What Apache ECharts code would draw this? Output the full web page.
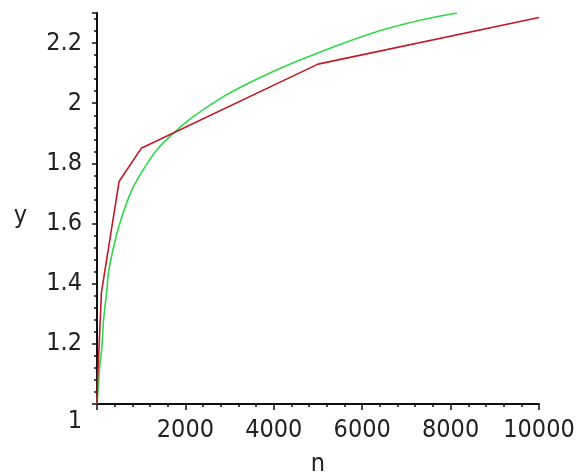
<!DOCTYPE html>
<html><head><meta charset="utf-8">
<script src="https://cdn.jsdelivr.net/npm/echarts@6/dist/echarts.min.js"></script>
<style>html,body{margin:0;padding:0;background:#fff}#c{width:582px;height:476px}</style>
</head><body><div id="c"></div>
<script>
// Red series (piecewise linear through sampled n)
const redN = [1, 10, 50, 100, 500, 1000, 5000, 10000];
const redY = [1.0, 1.07, 1.2, 1.37, 1.74, 1.85, 2.13, 2.285];
// Green series (smooth curve)
const greenN = [1, 30, 60, 111, 149, 224, 263, 414, 564, 790, 1093, 1395, 1773, 2149, 2905, 3659, 4412, 5470, 6224, 6980, 7734, 8148];
const greenY = [1.0, 1.06, 1.12, 1.19, 1.28, 1.379, 1.44, 1.546, 1.623, 1.712, 1.79, 1.852, 1.906, 1.952, 2.026, 2.083, 2.133, 2.194, 2.233, 2.264, 2.289, 2.3];
const xTicks = [0, 2000, 4000, 6000, 8000, 10000];
const yTicks = [1, 1.2, 1.4, 1.6, 1.8, 2, 2.2];

const FONT = "'Liberation Sans Narrow', 'DejaVu Sans Condensed', sans-serif";
const FS = 25;
const TXT = '#222';

const chart = echarts.init(document.getElementById('c'), null, {renderer: 'canvas'});
chart.setOption({
  animation: false,
  backgroundColor: '#fff',
  grid: {left: 97, right: 43, top: 13, bottom: 72, containLabel: false, outerBoundsMode: 'none'},
  xAxis: {
    type: 'value', min: xTicks[0], max: xTicks[xTicks.length - 1], interval: 2000,
    name: 'n', nameLocation: 'middle', nameGap: 48,
    nameTextStyle: {fontFamily: FONT, fontSize: FS, color: TXT},
    axisLine: {onZero: false, lineStyle: {color: '#111', width: 2}},
    axisTick: {length: 6, lineStyle: {color: '#111', width: 1.5}},
    minorTick: {show: true, splitNumber: 5, length: 3, lineStyle: {color: '#111', width: 1.5}},
    axisLabel: {showMinLabel: false, margin: 14, fontFamily: FONT, fontSize: FS, color: TXT,
      formatter: function (v) { return String(v); }},
    splitLine: {show: false}
  },
  yAxis: {
    type: 'value', min: yTicks[0], max: 2.3, interval: 0.2,
    name: '{a|y}', nameLocation: 'middle', nameRotate: 0, nameGap: 70,
    nameTextStyle: {fontFamily: FONT, fontSize: FS, color: TXT,
      rich: {a: {fontFamily: FONT, fontSize: FS, color: TXT, padding: [16, 0, 0, 0]}}},
    axisLine: {onZero: false, lineStyle: {color: '#111', width: 2}},
    axisTick: {length: 5, lineStyle: {color: '#111', width: 1.5}},
    minorTick: {show: true, splitNumber: 5, length: 3, lineStyle: {color: '#111', width: 1.5}},
    axisLabel: {
      showMaxLabel: false, margin: 15, fontFamily: FONT, fontSize: FS, color: TXT,
      formatter: function (v) { return Math.abs(v - 1) < 1e-9 ? '{d|1}' : String(+v.toFixed(2)); },
      rich: {d: {fontFamily: FONT, fontSize: FS, color: TXT, padding: [34, 0, 0, 0]}}
    },
    splitLine: {show: false}
  },
  series: [
    {
      type: 'line', name: 'green', showSymbol: false, smooth: 0.3,
      data: greenN.map((n, i) => [n, greenY[i]]),
      lineStyle: {color: '#2fd94a', width: 1.6}, z: 2
    },
    {
      type: 'line', name: 'red', showSymbol: false,
      data: redN.map((n, i) => [n, redY[i]]),
      lineStyle: {color: '#c01a2a', width: 1.6}, z: 3
    }
  ]
});
</script></body></html>
